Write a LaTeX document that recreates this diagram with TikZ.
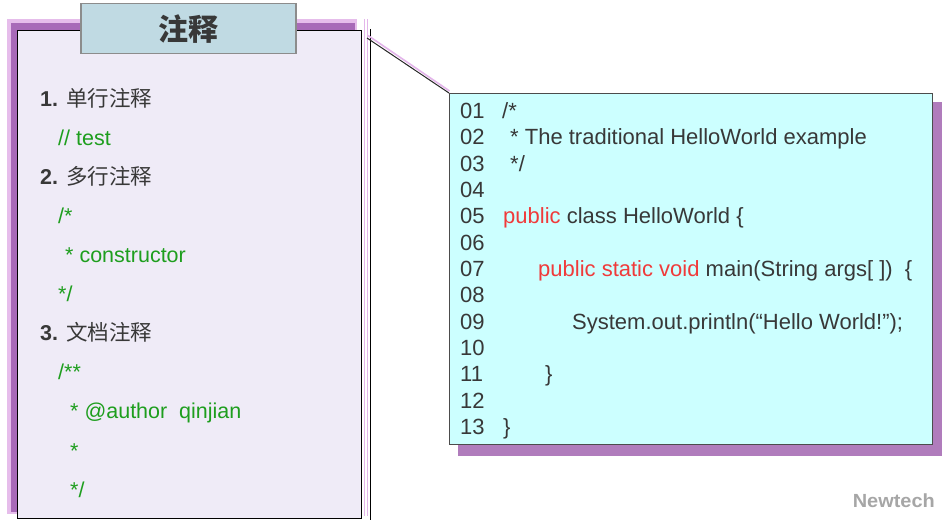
\documentclass[tikz,border=0pt]{standalone}
\usepackage{fontspec}
\setmainfont{Liberation Sans}
\newfontfamily\cjk{Noto Sans CJK SC}
\definecolor{txtgray}{HTML}{383838}
\definecolor{cmtgreen}{HTML}{1E9E1E}
\definecolor{kwred}{HTML}{F03A3A}
\definecolor{lavender}{HTML}{EFEBF7}
\definecolor{shadowlight}{HTML}{E6BDEB}
\definecolor{shadowdark}{HTML}{A86AB8}
\definecolor{titlefill}{HTML}{C0DAE3}
\definecolor{codefill}{HTML}{CCFFFF}
\definecolor{codeshadow}{HTML}{B07CBC}
\definecolor{pinkline}{HTML}{E3B5EA}
\tikzset{
  panel/.style={draw=black, line width=1.2pt, fill=lavender, inner sep=0pt, anchor=north west},
  titlebox/.style={draw=black!45, line width=1.5pt, fill=titlefill, inner sep=0pt, anchor=north west,
    font=\cjk\bfseries\fontsize{30}{32}\selectfont, text=txtgray},
  codebox/.style={draw=black!70, line width=1.2pt, fill=codefill, inner sep=0pt, anchor=north west},
  lefttxt/.style={anchor=base west, inner sep=0pt, font=\fontsize{21.5}{26}\selectfont, text=txtgray},
  green/.style={lefttxt, text=cmtgreen},
  codetxt/.style={anchor=base west, inner sep=0pt, font=\fontsize{22}{26}\selectfont, text=txtgray},
}
\begin{document}
\begin{tikzpicture}[x=1pt,y=-1pt]
\useasboundingbox (0,0) rectangle (948,526);
% left panel shadow
\fill[shadowlight] (7,19) rectangle (357,514);
\fill[shadowdark] (11,23) rectangle (355,512);
\node[panel, minimum width=344pt, minimum height=488pt] (panel) at (17,30) {};
\node[titlebox, minimum width=215pt, minimum height=50pt] (title) at (80,3) {注释};
% vertical separator lines
\draw[pinkline, line width=1pt] (364,19) -- (364,516);
\draw[pinkline, line width=1pt] (367,19) -- (367,516);
\coordinate (vtop) at (370,29);
\coordinate (vbot) at (370,520);
\draw[black, line width=1pt] (vtop) -- (vbot);
% left texts
\node[lefttxt] (h1) at (40,107) {\textbf{1.} {\cjk 单行注释}};
\node[green] (t1) at (58,146) {// test};
\node[lefttxt] (h2) at (40,185) {\textbf{2.} {\cjk 多行注释}};
\node[green] (t2) at (58,224) {/*};
\node[green] (t3) at (65,263) {* constructor};
\node[green] (t4) at (58,302) {*/};
\node[lefttxt] (h3) at (40,341) {\textbf{3.} {\cjk 文档注释}};
\node[green] (t5) at (58,380) {/**};
\node[green] (t6) at (70,419) {* @author\ \ qinjian};
\node[green] (t7) at (70,458) {*};
\node[green] (t8) at (70,497) {*/};
% code box
\fill[codeshadow] (458,102) rectangle (942,456);
\node[codebox, minimum width=483pt, minimum height=351pt] (code) at (449,93) {};
% connector
\coordinate (ctop) at (367,38);
\coordinate (ctopp) at (368,35.5);
\draw[pinkline, line width=1.6pt] (ctopp) -- ([shift={(0.5,-2)}]code.north west);
\draw[black!85, line width=1pt] (ctop) -- (code.north west);
% code lines
\foreach \n [count=\i from 0] in {01,02,03,04,05,06,07,08,09,10,11,12,13}{
  \node[codetxt] (ln\n) at (460,{118.5+26.33*\i}) {\n};
}
\node[codetxt] (c01) at (502,118.5) {/*};
\node[codetxt] (c02) at (510,144.8) {* The traditional HelloWorld example};
\node[codetxt] (c03) at (510,171.2) {*/};
\node[codetxt] (c05) at (503,223.8) {{\color{kwred}public} class HelloWorld \{};
\node[codetxt] (c07) at (538,276.5) {{\color{kwred}public static void} main(String args[\ ])\ \ \{};
\node[codetxt] (c09) at (572,329.2) {System.out.println(“Hello World!”);};
\node[codetxt] (c11) at (545,381.8) {\}};
\node[codetxt] (c13) at (503,434.5) {\}};
% logo
\node[anchor=base east, inner sep=0pt, font=\bfseries\fontsize{19}{20}\selectfont, text=black!35, xscale=1.05] (logo) at (935,507) {Newtech};
\end{tikzpicture}
\end{document}
